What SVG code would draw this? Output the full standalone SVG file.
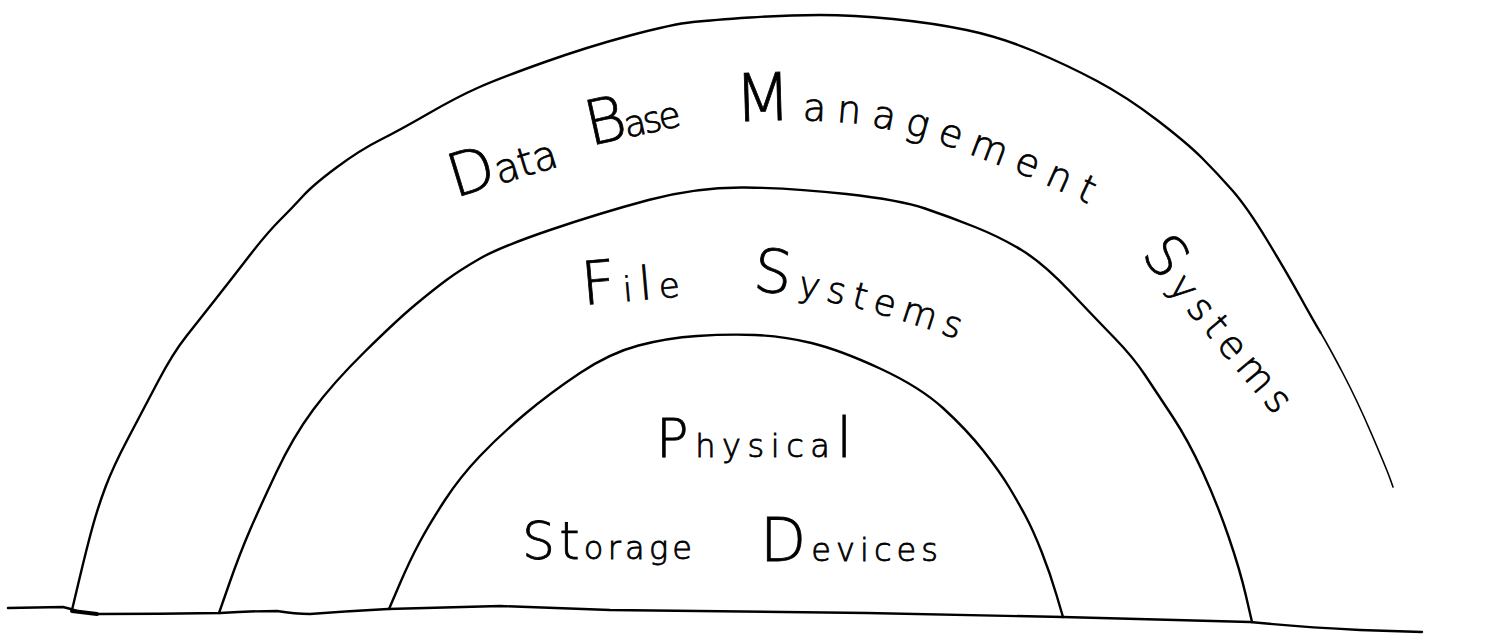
<svg xmlns="http://www.w3.org/2000/svg" width="1499" height="641" viewBox="0 0 1499 641">
  <style>
    .arch { fill: none; stroke: #000; stroke-width: 2.4; stroke-linecap: round; stroke-linejoin: round; }
    .thin { stroke-width: 1.6; }
    .hand { font-family: "DejaVu Sans", "Liberation Sans", sans-serif; font-weight: 200; fill: #000; stroke: #000; stroke-width: 0.8; }
  </style>
  <defs>
    <path id="mgmtBase" d="M735,122 Q790,118 850,123 Q905,130 950,147 Q1030,175 1100,210"/>
    <path id="fsBase" d="M752,291 Q840,296 965,342"/>
  </defs>
  <rect width="1499" height="641" fill="#fff"/>

  <!-- ground line -->
  <g id="ground">
    <path class="arch" d="M8,608 L63,607 Q72,609 80,612 L97,614 Q160,614 220,613 Q250,611 277,611 Q295,614 310,614 Q350,611 388,609 L500,606 Q560,608 610,610 L867,613 L1063,617 L1250,622 Q1300,627 1360,630 L1422,632"/>
    <path d="M72,611 L97,614" stroke="#000" stroke-width="4" stroke-linecap="round"/>
  </g>

  <!-- outer band: data base management systems -->
  <g id="dbms">
    <path class="arch" d="M72,610 L79.5,578.5 Q87,547 92.5,527 Q98,507 105.5,487 Q113,467 128,438.5 Q143,410 158,381.5 Q173,353 186.5,336 Q200,319 216.5,298 Q233,277 250,255 Q267,233 280,220 Q293,207 303,196 Q313,185 336.5,167.5 Q360,150 380,140 Q400,130 428.5,113.5 Q457,97 478.5,87.5 Q500,78 543.5,62.5 Q587,47 630,35.5 Q673,24 693,22 Q713,20 750,17.5 Q787,15 820,15 Q853,15 893,19 Q933,23 966.5,30 Q1000,37 1033.5,51 Q1067,65 1097,81 Q1127,97 1157,120 Q1187,143 1202,158 Q1217,173 1232,190 Q1247,207 1267,240 Q1287,273 1300,296.5 Q1313,320 1320.5,332.5"/>
    <path class="arch thin" d="M1320.5,332.5 Q1328,345 1342.5,372.5 Q1357,400 1372,435 Q1387,470 1390,478.5 L1393,487"/>
    <text class="hand" x="455" y="198" transform="rotate(-17 455 198)" textLength="110" lengthAdjust="spacing"><tspan font-size="60">D</tspan><tspan font-size="40">ata</tspan></text>
    <text class="hand" x="590" y="146" transform="rotate(-12.5 590 146)" textLength="95" lengthAdjust="spacing"><tspan font-size="62">B</tspan><tspan font-size="36">ase</tspan></text>
    <text class="hand"><textPath href="#mgmtBase" textLength="368" lengthAdjust="spacing"><tspan font-size="66">M</tspan><tspan font-size="38">anagement</tspan></textPath></text>
    <text class="hand" x="1140" y="255" transform="rotate(50 1140 255)" textLength="210" lengthAdjust="spacing"><tspan font-size="56">S</tspan><tspan font-size="38">ystems</tspan></text>
  </g>

  <!-- middle band: file systems -->
  <g id="file-systems">
    <path class="arch" d="M219,613 L229.5,583 Q240,553 250,530 Q260,507 276.5,472 Q293,437 313,410 Q333,383 365,351.5 Q397,320 415,305 Q433,290 446.5,280 Q460,270 480,258.5 Q500,247 550,230 Q600,213 648.5,200 Q697,187 745,187.5 Q793,188 846.5,194 Q900,200 925,208.5 Q950,217 975,227 Q1000,237 1021.5,250 Q1043,263 1070,291.5 Q1097,320 1115,338.5 Q1133,357 1145,375 Q1157,393 1172.5,416.5 Q1188,440 1202.5,471.5 Q1217,503 1228.5,536.5 Q1240,570 1246,596 L1252,622"/>
    <text class="hand" x="583" y="305" transform="rotate(-5 583 305)" textLength="98" lengthAdjust="spacing"><tspan font-size="60">F</tspan><tspan font-size="34">i</tspan><tspan font-size="46">l</tspan><tspan font-size="34">e</tspan></text>
    <text class="hand"><textPath href="#fsBase" textLength="212" lengthAdjust="spacing"><tspan font-size="60">S</tspan><tspan font-size="36">ystems</tspan></textPath></text>
  </g>

  <!-- inner band: physical storage devices -->
  <g id="physical-storage">
    <path class="arch" d="M389,609 L399.5,584.5 Q410,560 420,541.5 Q430,523 445,500 Q460,477 480,456 Q500,435 525,414 Q550,393 580,373 Q610,353 638.5,345.5 Q667,338 697,336 Q727,334 755,335 Q783,336 811.5,343 Q840,350 880,368.5 Q920,387 943.5,408.5 Q967,430 983.5,451 Q1000,472 1009,487 Q1018,502 1025.5,516 Q1033,530 1041.5,551.5 Q1050,573 1056.5,595 L1063,617"/>
    <text class="hand" x="656" y="457" textLength="196" lengthAdjust="spacing"><tspan font-size="54">P</tspan><tspan font-size="32">hysica</tspan><tspan font-size="56">l</tspan></text>
    <text class="hand" x="522" y="559" textLength="170" lengthAdjust="spacing"><tspan font-size="52">S</tspan><tspan font-size="52">t</tspan><tspan font-size="32">orage</tspan></text>
    <text class="hand" x="760" y="561" textLength="178" lengthAdjust="spacing"><tspan font-size="60">D</tspan><tspan font-size="32">evices</tspan></text>
  </g>
</svg>
